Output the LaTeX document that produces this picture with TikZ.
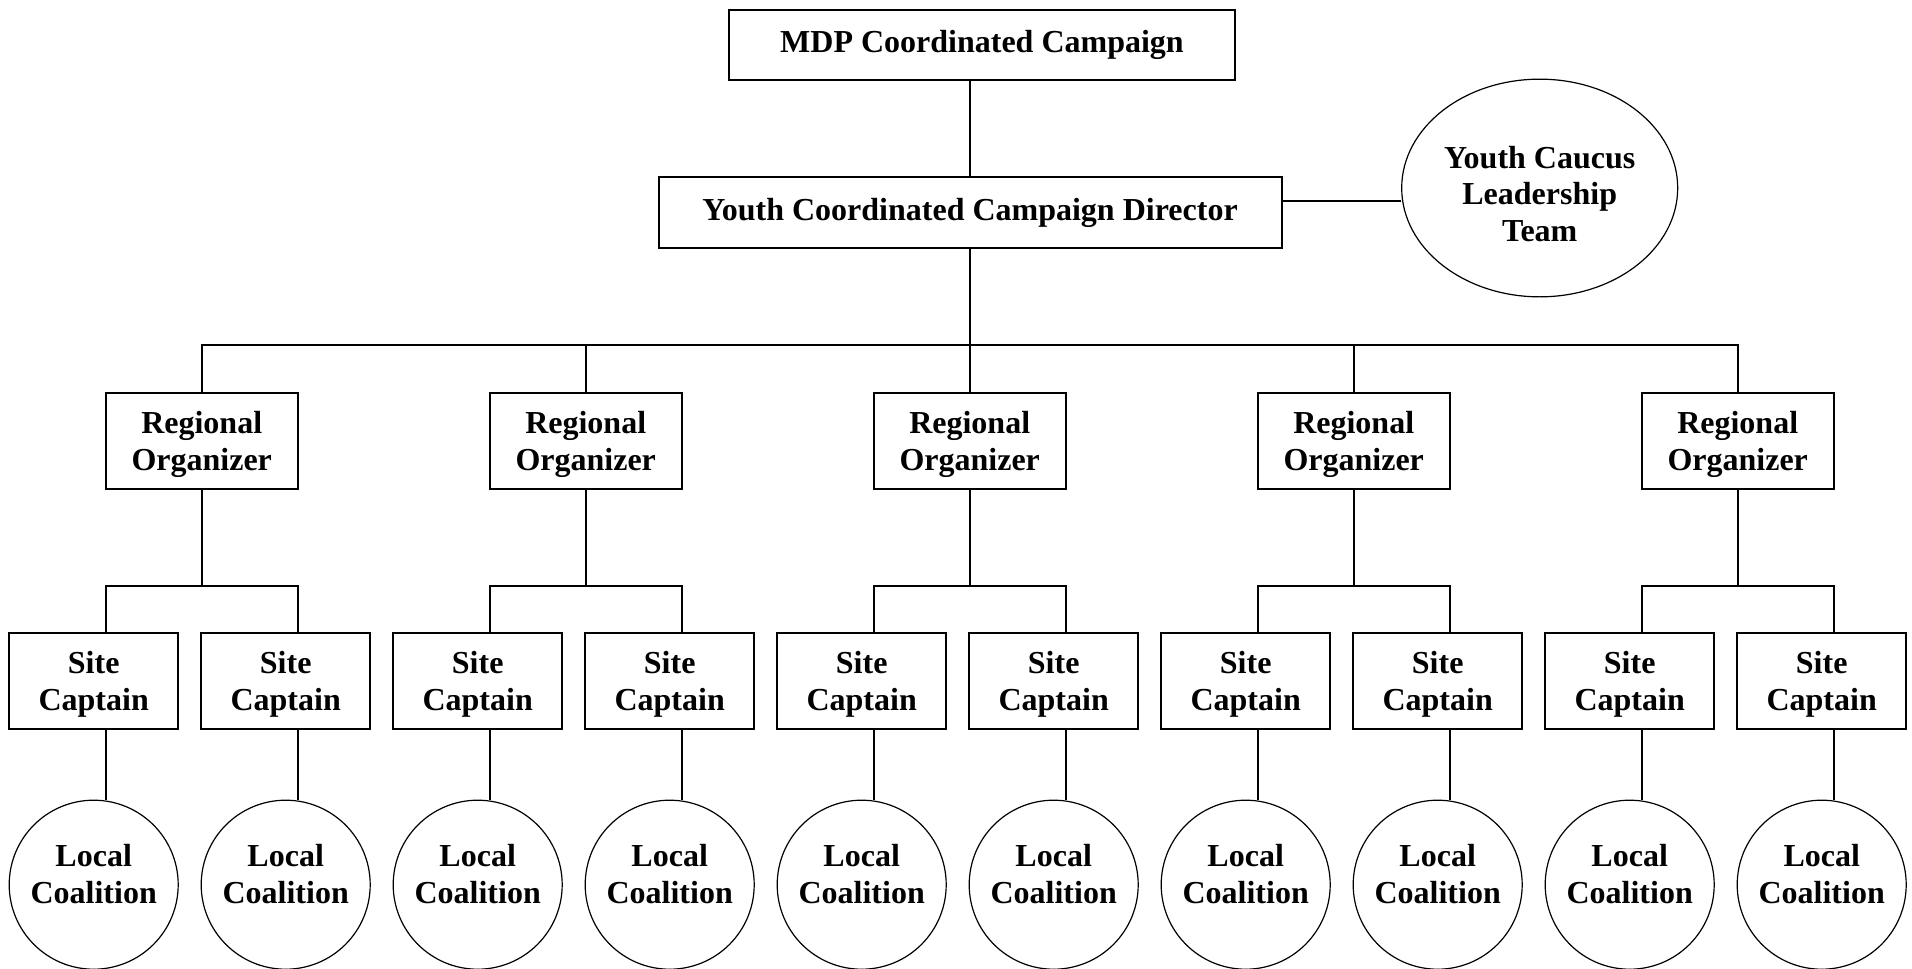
\documentclass[tikz,border=0pt]{standalone}
\usepackage{fontspec}
\setmainfont{Liberation Serif}
\usetikzlibrary{shapes.geometric}

\begin{document}
\begin{tikzpicture}[x=0.5pt, y=-0.5pt, line width=1pt,
  box/.style={draw, rectangle, inner sep=0pt, align=center,
    font=\fontsize{16}{18.35}\selectfont\bfseries},
  robox/.style={box, minimum width=96.15pt, minimum height=48.15pt, text depth=0pt},
  scbox/.style={box, minimum width=84.5pt, minimum height=48.15pt, text depth=0pt},
  lcring/.style={box, circle, line width=0.6pt, minimum size=84.5pt, text depth=10.7pt},
  oval/.style={box, ellipse, line width=0.6pt}]
  \useasboundingbox (0,0) rectangle (1912,969);
  % top two levels
  \node[box, minimum width=253pt, minimum height=35.4pt] (mdp) at (982,45) {MDP Coordinated Campaign};
  \node[box, minimum width=311.5pt, minimum height=35.75pt] (ycd) at (970,212.5) {Youth Coordinated Campaign Director};
  \node[oval, minimum width=138pt, minimum height=108.85pt, text height=53.7pt] (ycl) at (1539.7,188) {Youth Caucus\\Leadership\\Team};
  \draw (ycd.north) -- (ycd.north |- mdp.south);
  \draw ([yshift=5.9pt]ycd.east) -- ([yshift=5.9pt]ycd.east -| ycl.west);
  \coordinate (bus) at (970,345);
  \draw (ycd.south) -- (bus);
  % one branch per regional organizer
  \foreach \i in {1,...,5} {
    \pgfmathsetmacro{\cx}{201.7+384*(\i-1)}
    \node[robox] (ro\i) at (\cx,440.85) {Regional\\Organizer};
    \draw (ro\i.north) |- (bus);
    \node[scbox] (sca\i) at (\cx-108,680.85) {Site\\Captain};
    \node[scbox] (scb\i) at (\cx+84,680.85) {Site\\Captain};
    \node[lcring] (lca\i) at (\cx-108,884.7) {Local\\Coalition};
    \node[lcring] (lcb\i) at (\cx+84,884.7) {Local\\Coalition};
    \draw (ro\i.south) -- ++(0,95.7) coordinate (fork\i);
    \draw ([xshift=5.9pt]sca\i.north) |- (fork\i) -| ([xshift=5.9pt]scb\i.north);
    \draw ([xshift=5.9pt]sca\i.south) -- ([xshift=5.9pt]sca\i.south |- lca\i.north);
    \draw ([xshift=5.9pt]scb\i.south) -- ([xshift=5.9pt]scb\i.south |- lcb\i.north);
  }
\end{tikzpicture}
\end{document}
